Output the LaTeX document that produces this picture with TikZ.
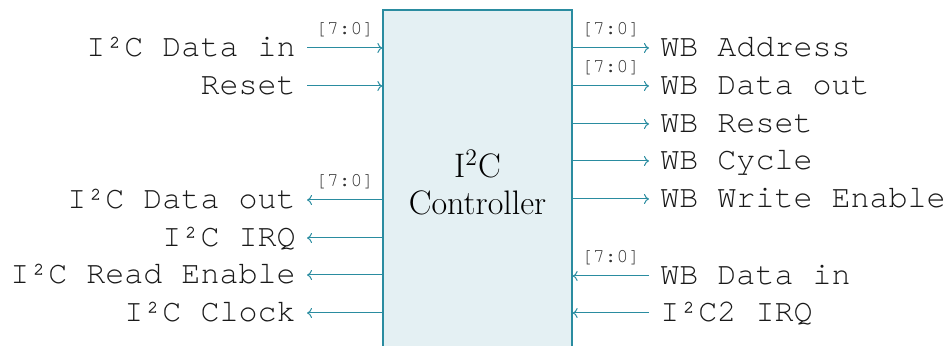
\documentclass[tikz,border=0pt]{standalone}
\usepackage{fontspec}
\newfontfamily\monofont{TeX Gyre Cursor}
\usetikzlibrary{arrows.meta}
\definecolor{teal1}{RGB}{42,140,160}
\definecolor{boxfill}{RGB}{228,240,243}
\begin{document}
\begin{tikzpicture}[x=0.5pt,y=-0.5pt,
  sig/.style={draw=teal1, line width=0.5pt, -{To[length=2.5pt,width=5pt]}},
  lbl/.style={font=\monofont\fontsize{15.85}{19}\selectfont, text=black!90, text height=11pt, text depth=2pt, inner xsep=5.5pt, inner ysep=0pt},
  bus/.style={font=\monofont\fontsize{9.8}{11}\selectfont, text=black!80, anchor=base, yshift=6.5pt, inner sep=0pt},
  blk/.style={draw=teal1, fill=boxfill, line width=0.6pt, minimum width=94.5pt, minimum height=172.5pt, align=center, font=\fontsize{17}{18.5}\selectfont, inner sep=0pt}]
\useasboundingbox (0,0) rectangle (946,346);
\node[blk] (ctrl) at (477.5,182.5) {I\textsuperscript{2}C\\Controller};
% left inputs
\node[lbl,anchor=east] (i2cdin) at (307,48) {I²C Data in};
\node[lbl,anchor=east] (rst) at (307,86) {Reset};
\draw[sig] (i2cdin.east) -- node[bus]{[7:0]} (i2cdin.east -| ctrl.west);
\draw[sig] (rst.east) -- (rst.east -| ctrl.west);
% left outputs
\node[lbl,anchor=east] (i2cdout) at (307,200) {I²C Data out};
\node[lbl,anchor=east] (i2cirq) at (307,238) {I²C IRQ};
\node[lbl,anchor=east] (i2cre) at (307,275) {I²C Read Enable};
\node[lbl,anchor=east] (i2cclk) at (307,313) {I²C Clock};
\draw[sig] (i2cdout.east -| ctrl.west) -- node[bus]{[7:0]} (i2cdout.east);
\draw[sig] (i2cirq.east -| ctrl.west) -- (i2cirq.east);
\draw[sig] (i2cre.east -| ctrl.west) -- (i2cre.east);
\draw[sig] (i2cclk.east -| ctrl.west) -- (i2cclk.east);
% right outputs
\node[lbl,anchor=west] (wbadr) at (649,48) {WB Address};
\node[lbl,anchor=west] (wbdout) at (649,86) {WB Data out};
\node[lbl,anchor=west] (wbrst) at (649,124) {WB Reset};
\node[lbl,anchor=west] (wbcyc) at (649,161) {WB Cycle};
\node[lbl,anchor=west] (wbwe) at (649,199) {WB Write Enable};
\draw[sig] (wbadr.west -| ctrl.east) -- node[bus]{[7:0]} (wbadr.west);
\draw[sig] (wbdout.west -| ctrl.east) -- node[bus]{[7:0]} (wbdout.west);
\draw[sig] (wbrst.west -| ctrl.east) -- (wbrst.west);
\draw[sig] (wbcyc.west -| ctrl.east) -- (wbcyc.west);
\draw[sig] (wbwe.west -| ctrl.east) -- (wbwe.west);
% right inputs
\node[lbl,anchor=west] (wbdin) at (649,276) {WB Data in};
\node[lbl,anchor=west] (irq2) at (649,313) {I²C2 IRQ};
\draw[sig] (wbdin.west) -- node[bus]{[7:0]} (wbdin.west -| ctrl.east);
\draw[sig] (irq2.west) -- (irq2.west -| ctrl.east);
\end{tikzpicture}
\end{document}
